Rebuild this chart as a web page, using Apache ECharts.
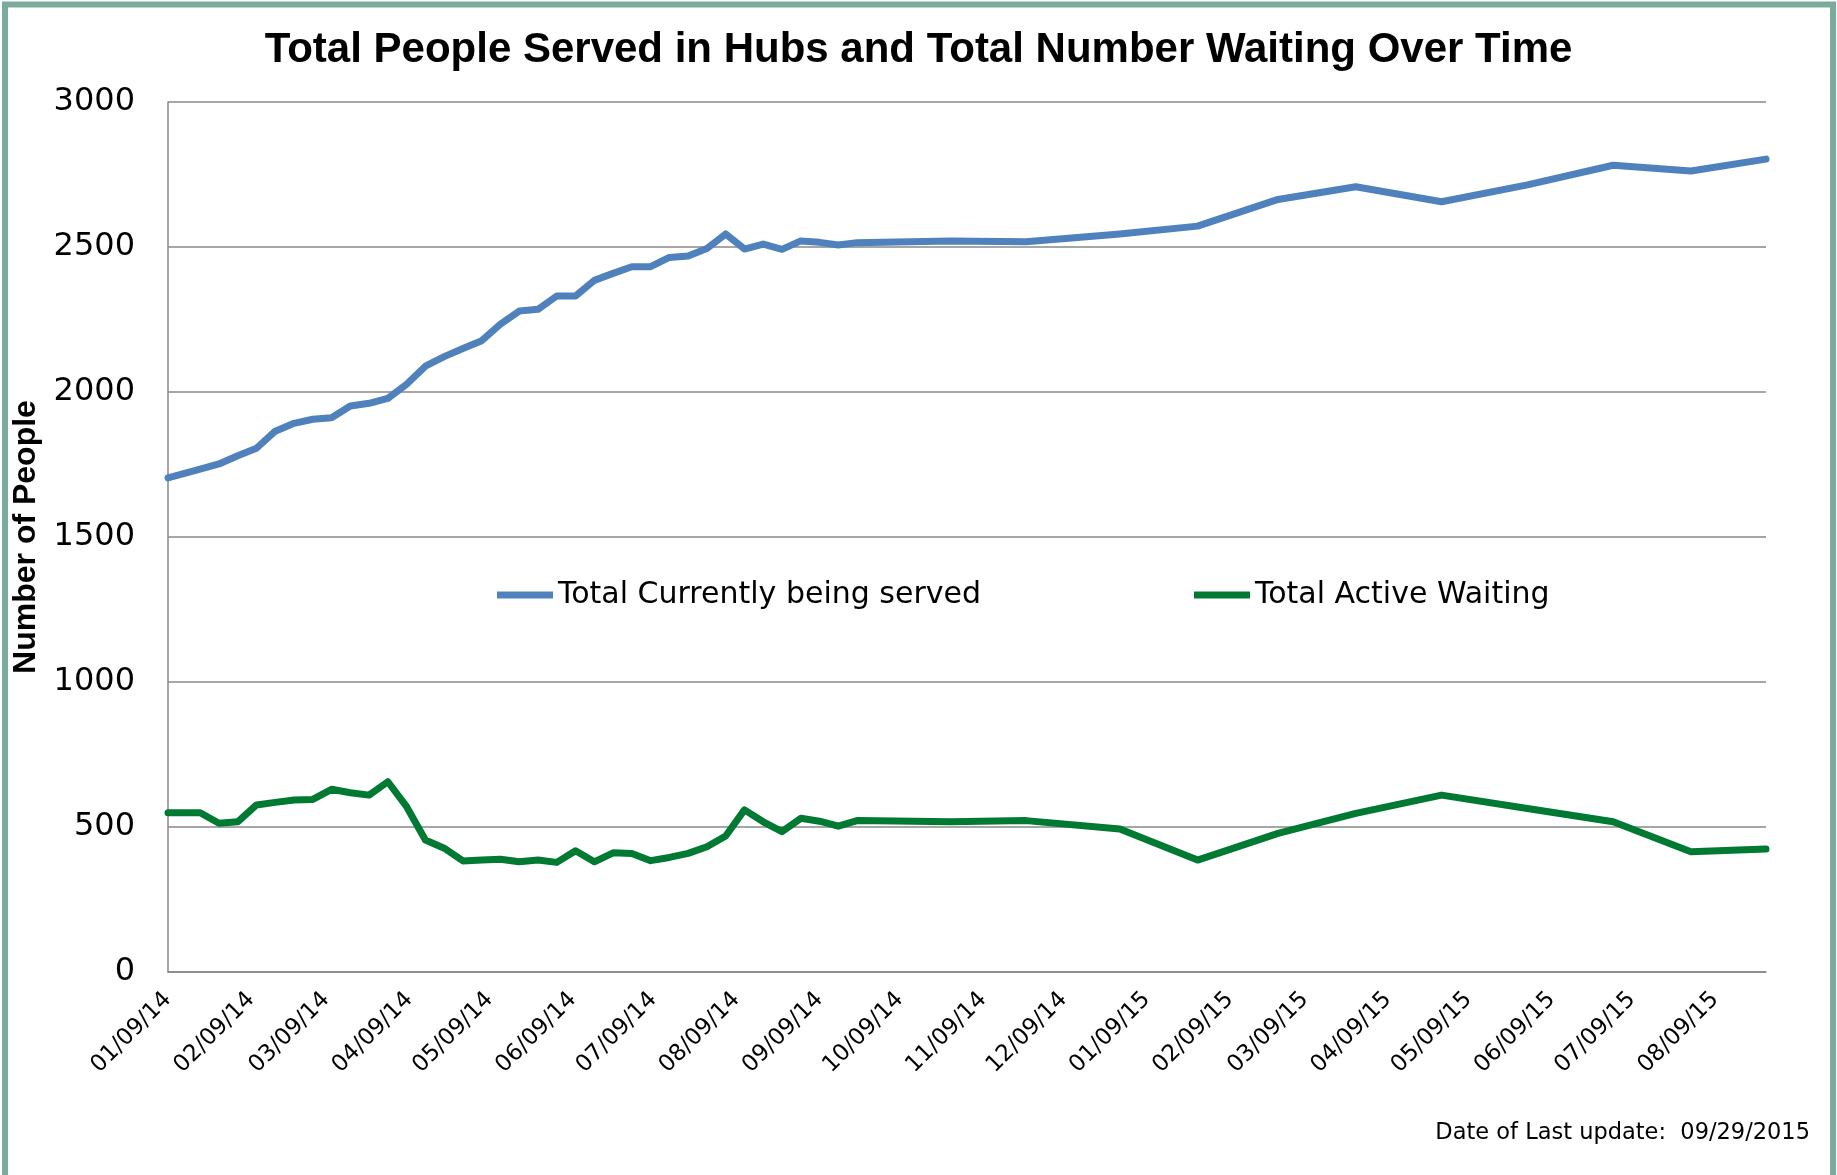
<!DOCTYPE html>
<html>
<head>
<meta charset="utf-8">
<title>Total People Served in Hubs</title>
<script src="https://cdn.jsdelivr.net/npm/echarts@6/dist/echarts.min.js"></script>
<style>
  html, body { margin: 0; padding: 0; background: #fff; }
  #chart { width: 1837px; height: 1175px; }
</style>
</head>
<body>
<div id="chart"></div>
<script>
// dates of each count (weekly at first, then roughly monthly)
var dates = [
  "2014-01-09", "2014-01-21", "2014-01-28", "2014-02-04", "2014-02-11", "2014-02-18",
  "2014-02-25", "2014-03-04", "2014-03-11", "2014-03-18", "2014-03-25", "2014-04-01",
  "2014-04-08", "2014-04-15", "2014-04-22", "2014-04-29", "2014-05-06", "2014-05-13",
  "2014-05-20", "2014-05-27", "2014-06-03", "2014-06-10", "2014-06-17", "2014-06-24",
  "2014-07-01", "2014-07-08", "2014-07-15", "2014-07-22", "2014-07-29", "2014-08-05",
  "2014-08-12", "2014-08-19", "2014-08-26", "2014-09-02", "2014-09-09", "2014-09-16",
  "2014-09-23", "2014-10-28", "2014-11-25", "2014-12-30", "2015-01-28", "2015-02-27",
  "2015-03-28", "2015-04-29", "2015-05-31", "2015-07-02", "2015-07-31", "2015-08-28"
];

// Total Currently being served
var served = [
  1704, 1734, 1752, 1780, 1806, 1865,
  1892, 1906, 1911, 1952, 1961, 1978,
  2027, 2089, 2122, 2150, 2177, 2234,
  2279, 2285, 2331, 2331, 2385, 2409,
  2432, 2432, 2464, 2469, 2495, 2545,
  2493, 2510, 2492, 2521, 2516, 2507,
  2515, 2521, 2518, 2545, 2572, 2664,
  2708, 2656, 2714, 2782, 2762, 2803
];

// Total Active Waiting
var waiting = [
  549, 549, 513, 518, 576, 585,
  593, 595, 630, 618, 610, 656,
  570, 455, 427, 383, 386, 389,
  380, 386, 378, 418, 380, 411,
  409, 384, 395, 409, 432, 469,
  559, 518, 484, 530, 520, 503,
  522, 518, 522, 493, 386, 478,
  547, 610, 564, 518, 415, 424
];

// x axis labels (MM/DD/YY)
var tickLabels = [
  "01/09/14", "02/09/14", "03/09/14", "04/09/14", "05/09/14", "06/09/14", "07/09/14",
  "08/09/14", "09/09/14", "10/09/14", "11/09/14", "12/09/14", "01/09/15", "02/09/15",
  "03/09/15", "04/09/15", "05/09/15", "06/09/15", "07/09/15", "08/09/15"
];

var yTicks = [0, 500, 1000, 1500, 2000, 2500, 3000];

// "YYYY-MM-DD" -> ms
function isoTime(s) {
  var p = s.split("-");
  return new Date(Number(p[0]), Number(p[1]) - 1, Number(p[2])).getTime();
}
// "MM/DD/YY" -> ms
function labelTime(s) {
  var p = s.split("/");
  return new Date(2000 + Number(p[2]), Number(p[0]) - 1, Number(p[1])).getTime();
}
var times = dates.map(isoTime);
var tickTimes = tickLabels.map(labelTime);

var myChart = echarts.init(document.getElementById("chart"));
myChart.setOption({
  animation: false,
  title: [
    {
      text: "Total People Served in Hubs and Total Number Waiting Over Time",
      left: "center",
      top: 24,
      textStyle: {
        color: "#000",
        fontFamily: "Liberation Sans",
        fontWeight: "bold",
        fontSize: 42,
      },
    },
    {
      text: "Date of Last update:  09/29/2015",
      right: 22,
      top: 1117,
      textStyle: {
        color: "#000",
        fontFamily: "DejaVu Sans",
        fontWeight: "normal",
        fontSize: 22.5,
      },
    },
  ],
  // two legends, placed like the original
  legend: [
    {
      left: 492,
      top: 575,
      itemWidth: 56,
      itemHeight: 7,
      icon: "rect",
      data: ["Total Currently being served"],
      textStyle: { color: "#000", fontSize: 30, fontFamily: "DejaVu Sans" },
    },
    {
      left: 1189,
      top: 575,
      itemWidth: 56,
      itemHeight: 7,
      icon: "rect",
      data: ["Total Active Waiting"],
      textStyle: { color: "#000", fontSize: 30, fontFamily: "DejaVu Sans" },
    },
  ],
  grid: {
    left: 168,
    top: 102,
    right: 71,
    bottom: 203,
  },
  // date axis drawn as a value axis of timestamps, labels on the 9th of each month
  xAxis: {
    type: "value",
    min: times[0],
    max: times[times.length - 1],
    axisLine: { show: true, lineStyle: { color: "#888", width: 1.5 } },
    axisTick: { show: false, customValues: tickTimes },
    splitLine: { show: false },
    axisLabel: {
      customValues: tickTimes,
      rotate: 45,
      margin: 24,
      color: "#000",
      fontSize: 23,
      fontFamily: "DejaVu Sans",
      formatter: function (value) {
        var i = tickTimes.indexOf(value);
        return i >= 0 ? tickLabels[i] : "";
      },
    },
  },
  yAxis: {
    type: "value",
    min: yTicks[0],
    max: yTicks[yTicks.length - 1],
    interval: 500,
    name: "Number of People",
    nameLocation: "middle",
    nameGap: 118,
    nameTextStyle: {
      color: "#000",
      fontFamily: "Liberation Sans",
      fontWeight: "bold",
      fontSize: 32,
    },
    axisLine: { show: true, lineStyle: { color: "#888", width: 1.5 } },
    axisTick: { show: false },
    splitLine: { lineStyle: { color: "#888", width: 1.5 } },
    axisLabel: {
      margin: 33,
      color: "#000",
      fontSize: 32,
      fontFamily: "DejaVu Sans",
      formatter: function (value) {
        return String(value);
      },
    },
  },
  series: [
    {
      name: "Total Currently being served",
      type: "line",
      symbol: "none",
      data: times.map(function (t, i) { return [t, served[i]]; }),
      itemStyle: { color: "#4F81BD" },
      lineStyle: { color: "#4F81BD", width: 7, cap: "round", join: "round" },
    },
    {
      name: "Total Active Waiting",
      type: "line",
      symbol: "none",
      data: times.map(function (t, i) { return [t, waiting[i]]; }),
      itemStyle: { color: "#007A33" },
      lineStyle: { color: "#007A33", width: 7, cap: "round", join: "round" },
    },
  ],
  // outer frame
  graphic: [
    {
      type: "rect",
      silent: true,
      shape: { x: 5, y: 4.5, width: 1828, height: 1200 },
      style: { fill: "none", stroke: "#7AAB9B", lineWidth: 6 },
    },
  ],
});
</script>
</body>
</html>
